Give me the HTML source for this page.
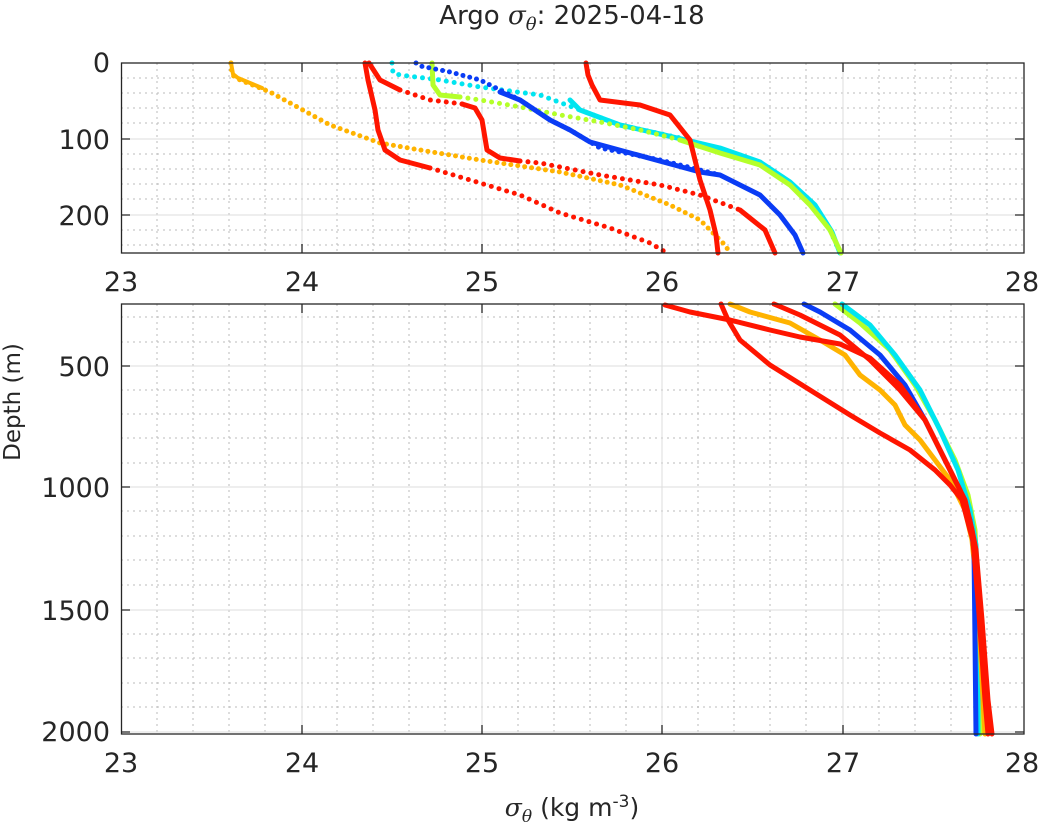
<!DOCTYPE html>
<html><head><meta charset="utf-8"><style>
body{margin:0;background:#fff;}
text{font-family:"DejaVu Sans",sans-serif;fill:#262626;}
</style></head><body>
<svg width="1044" height="835" xmlns="http://www.w3.org/2000/svg">
<!-- top axes grid -->
<g stroke="#bbb" stroke-width="1" stroke-dasharray="2,4">
<path d="M157,63V253M193,63V253M229,63V253M265,63V253M337,63V253M373,63V253M409,63V253M445,63V253M518,63V253M554,63V253M590,63V253M626,63V253M698,63V253M734,63V253M770,63V253M806,63V253M879,63V253M915,63V253M951,63V253M987,63V253"/>
<path d="M121,78H1024M121,93H1024M121,108H1024M121,123H1024M121,154H1024M121,169H1024M121,184H1024M121,199H1024M121,230H1024M121,245H1024"/>
</g>
<g stroke="#ddd" stroke-width="1">
<path d="M302,63V253M482,63V253M662,63V253M843,63V253M121,139H1024M121,215H1024"/>
</g>
<!-- bottom axes grid -->
<g stroke="#bbb" stroke-width="1" stroke-dasharray="2,4">
<path d="M157,304V734M193,304V734M229,304V734M265,304V734M337,304V734M373,304V734M409,304V734M445,304V734M518,304V734M554,304V734M590,304V734M626,304V734M698,304V734M734,304V734M770,304V734M806,304V734M879,304V734M915,304V734M951,304V734M987,304V734"/>
<path d="M121,317H1024M121,342H1024M121,390H1024M121,414H1024M121,438H1024M121,463H1024M121,511H1024M121,536H1024M121,560H1024M121,585H1024M121,634H1024M121,658H1024M121,683H1024M121,707H1024"/>
</g>
<g stroke="#ddd" stroke-width="1">
<path d="M302,304V734M482,304V734M662,304V734M843,304V734M121,366H1024M121,487H1024M121,610H1024M121,732H1024"/>
</g>

<!-- top series -->
<g fill="none" stroke-linecap="round" stroke-linejoin="round">
<polyline stroke="#ffb300" stroke-width="5" stroke-dasharray="0 7" points="231,63 232,75 240,80 270,92 290,103 330,125 380,143 420,150 480,160 560,172 620,185 670,205 700,220 715,235 725,245 730,253"/>
<polyline stroke="#ffb300" stroke-width="4" points="231,63 233,74 238,78 262,88"/>
<polyline stroke="#00e5f0" stroke-width="5" stroke-dasharray="0 8" points="392,63 393,73 400,75 440,80 480,87 540,95 580,110 620,125 680,138 740,155 780,175 810,200 830,230 840,253"/>
<polyline stroke="#00e5f0" stroke-width="5" points="570,100 580,110 620,125 660,134 720,148 760,162 790,182 815,205 832,232 840,253"/>
<polyline stroke="#b4ff2a" stroke-width="5" points="432,63 433,85 440,95 460,97"/>
<polyline stroke="#b4ff2a" stroke-width="5" stroke-dasharray="0 8" points="460,97 480,100 520,107 560,115 600,122 640,130 680,140"/>
<polyline stroke="#b4ff2a" stroke-width="5" points="680,140 720,153 760,165 790,185 810,205 830,230 841,253"/>
<polyline stroke="#0a3cf5" stroke-width="5" stroke-dasharray="0 7" points="416,63 420,66 450,72 480,80 520,100 550,120 570,130 600,148 660,160 720,175"/>
<polyline stroke="#0a3cf5" stroke-width="5" points="500,92 520,100 550,120 570,130 590,142 700,172 720,175 760,195 780,215 795,235 803,253"/>
<polyline stroke="#ff1500" stroke-width="5" points="365,63 368,80 375,110 378,130 385,150 400,160 430,168"/>
<polyline stroke="#ff1500" stroke-width="5" stroke-dasharray="0 8" points="430,168 480,183 520,195 560,213 610,228 650,243 667,253"/>
<polyline stroke="#ff1500" stroke-width="5" points="369,63 380,80 400,90"/>
<polyline stroke="#ff1500" stroke-width="5" stroke-dasharray="0 8" points="400,90 430,100 470,105"/>
<polyline stroke="#ff1500" stroke-width="5" points="462,104 475,108 482,120 487,150 500,158 520,161"/>
<polyline stroke="#ff1500" stroke-width="5" stroke-dasharray="0 8" points="520,161 540,163 600,175 660,185 700,195 740,210"/>
<polyline stroke="#ff1500" stroke-width="5" points="740,210 765,230 775,253"/>
<polyline stroke="#ff1500" stroke-width="5" points="586,63 588,75 592,85 600,100 640,105 670,115 690,140 700,180 710,210 716,235 718,253"/>
</g>

<!-- bottom series -->
<g fill="none" stroke-width="5" stroke-linecap="round" stroke-linejoin="round">
<polyline stroke="#b4ff2a" points="835,304 860,323 890,350 915,385 935,420 955,460 968,495 975,530 978,600 980,680 980,734"/>
<polyline stroke="#00e5f0" points="842,304 870,325 895,355 920,390 940,430 958,470 970,510 976,545 978,620 978,734"/>
<polyline stroke="#ffb300" points="730,304 750,312 790,323 820,340 845,355 860,375 880,390 895,405 905,425 920,440 935,460 950,480 965,510 972,540 978,600 983,700 985,734"/>
<polyline stroke="#0a3cf5" points="804,304 820,312 850,330 880,355 905,385 925,420 945,460 960,490 970,520 974,550 975,640 976,734"/>
<polyline stroke="#ff1500" points="774,304 800,315 840,335 870,360 900,390 925,420 945,460 960,490 972,530 978,600 985,700 988,734"/>
<polyline stroke="#ff1500" points="665,305 690,312 730,320 770,330 800,337 840,344 870,358 900,385 925,420 940,450 955,480 965,500 972,530 976,550 982,620 988,700 992,734"/>
<polyline stroke="#ff1500" points="721,304 728,320 740,340 770,365 810,390 850,415 880,433 910,450 935,470 950,485 962,500 970,530 976,550"/>
</g>

<!-- axes boxes -->
<g fill="none" stroke="#262626" stroke-width="1.3">
<rect x="121.5" y="63" width="902.5" height="190"/>
<rect x="121.5" y="304" width="902.5" height="430"/>
<path d="M121,139h9M121,215h9M1024,139h-9M1024,215h-9M302,253v-9M482,253v-9M662,253v-9M843,253v-9M302,63v9M482,63v9M662,63v9M843,63v9"/>
<path d="M121,366h9M121,487h9M121,610h9M121,732h9M1024,366h-9M1024,487h-9M1024,610h-9M1024,732h-9M302,734v-9M482,734v-9M662,734v-9M843,734v-9M302,304v9M482,304v9M662,304v9M843,304v9"/>
</g>
<g font-size="27" text-anchor="end">
<text x="110" y="72">0</text><text x="110" y="149">100</text><text x="110" y="225">200</text>
<text x="110" y="376">500</text><text x="110" y="497">1000</text><text x="110" y="620">1500</text><text x="110" y="741">2000</text>
</g>
<g font-size="27" text-anchor="middle">
<text x="121" y="291">23</text><text x="302" y="291">24</text><text x="482" y="291">25</text><text x="662" y="291">26</text><text x="843" y="291">27</text><text x="1022" y="291">28</text>
<text x="121" y="772">23</text><text x="302" y="772">24</text><text x="482" y="772">25</text><text x="662" y="772">26</text><text x="843" y="772">27</text><text x="1022" y="772">28</text>
</g>
<text x="572" y="24" font-size="26" text-anchor="middle">Argo <tspan font-family="DejaVu Serif, serif" font-style="italic">σ</tspan><tspan font-family="DejaVu Serif, serif" font-style="italic" font-size="18" dy="6">θ</tspan><tspan dy="-6">: 2025-04-18</tspan></text>
<text x="572" y="816" font-size="25" text-anchor="middle"><tspan font-family="DejaVu Serif, serif" font-style="italic">σ</tspan><tspan font-family="DejaVu Serif, serif" font-style="italic" font-size="17" dy="6">θ</tspan><tspan dy="-6"> (kg m</tspan><tspan font-size="17" dy="-9">-3</tspan><tspan dy="9">)</tspan></text>
<text transform="translate(20,402) rotate(-90)" font-size="23" text-anchor="middle">Depth (m)</text>
</svg>
</body></html>
